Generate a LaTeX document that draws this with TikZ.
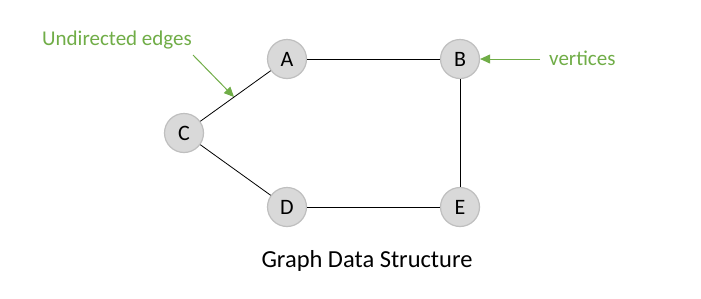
\documentclass[tikz,border=0pt]{standalone}
\usepackage{fontspec}
\setmainfont{Carlito}
\usetikzlibrary{arrows.meta}
\definecolor{lblgreen}{HTML}{70AD47}
\definecolor{nodefill}{HTML}{D9D9D9}
\definecolor{nodeline}{HTML}{BFBFBF}
\begin{document}
\begin{tikzpicture}[x=1pt,y=-1pt,
  vertex/.style={circle,fill=nodefill,draw=nodeline,line width=1.2pt,minimum size=39pt,inner sep=0pt,font=\fontsize{22}{26}\selectfont},
  edge/.style={draw=black,line width=0.8pt},
  callout/.style={draw=lblgreen,line width=1pt,-{Triangle[length=10pt,width=9pt]}},
  lbl/.style={text=lblgreen,font=\fontsize{21}{25}\selectfont,inner sep=0pt}]
\useasboundingbox[fill=white] (0,0) rectangle (701,298);
\node[vertex] (A) at (287,59) {A};
\node[vertex] (B) at (460,59) {B};
\node[vertex] (C) at (184,133) {C};
\node[vertex] (D) at (287,207) {D};
\node[vertex] (E) at (460,207) {E};
\draw[edge] (A) -- (B);
\draw[edge] (C) -- (A);
\draw[edge] (C) -- (D);
\draw[edge] (D) -- (E);
\draw[edge] (B) -- (E);
\node[lbl] (ue) at (117,40) {Undirected edges};
\node[lbl,anchor=west] (vt) at (549,58) {vertices};
\coordinate (ueS) at (193,55);
\coordinate (ueT) at (234,97);
\coordinate (vtS) at (540,59);
\draw[callout] (ueS) -- (ueT);
\draw[callout] (vtS) -- (B.east);
\node[font=\fontsize{24.5}{29}\selectfont,inner sep=0pt] (title) at (367,261) {Graph Data Structure};
\end{tikzpicture}
\end{document}
